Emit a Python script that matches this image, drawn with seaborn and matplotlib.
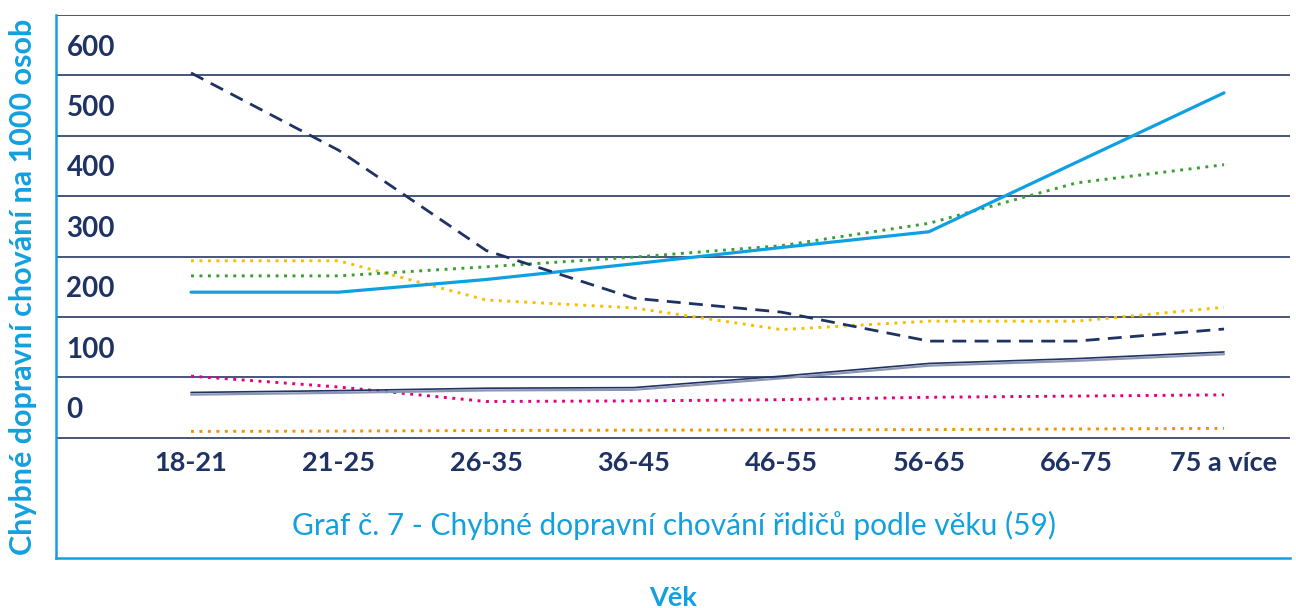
import numpy as np
import pandas as pd
import matplotlib
matplotlib.use("Agg")
import matplotlib.pyplot as plt
import matplotlib.patheffects as pe
import matplotlib.transforms as mtransforms
import seaborn as sns

# ---- data ----
categories = ["18-21", "21-25", "26-35", "36-45", "46-55", "56-65", "66-75", "75 a více"]
navy_dashed = [604, 476, 310, 231, 208, 160, 160, 180]
blue_solid = [241, 241, 262, 288, 315, 341, 456, 571]
green_dotted = [268, 268, 283, 299, 318, 355, 422, 452]
yellow_dotted = [293, 293, 228, 215, 179, 193, 193, 216]
navy_thin = [75, 78, 82, 83, 102, 123, 131, 142]
pink_dotted = [102, 84, 60, 61, 63, 67, 69, 71]
orange_dotted = [10.5, 11, 12, 12.5, 13, 13.5, 14.5, 15.5]
ytick_values = [0, 100, 200, 300, 400, 500, 600]
ytick_labels = ["0", "100", "200", "300", "400", "500", "600"]
title_text = "Graf č. 7 - Chybné dopravní chování řidičů podle věku (59)"
ylabel_text = "Chybné dopravní chování na 1000 osob"
xlabel_text = "Věk"

sns.set_theme(style="white")
plt.rcParams["font.family"] = ["Lato", "DejaVu Sans"]

NAVY = "#1f3264"
BLUE = "#12a0e0"

fig = plt.figure(figsize=(12.96, 6.08), dpi=100)
ax = fig.add_axes([56 / 1296, 1 - 558.3 / 608, 1234 / 1296, (558.3 - 14.7) / 608])

x = np.arange(len(categories))

def draw(vals, color, lw, ls, effects=None, z=3):
    sns.lineplot(x=x, y=vals, ax=ax, color=color, linewidth=lw, linestyle=ls,
                 zorder=z, path_effects=effects)

draw(orange_dotted, "#f39200", 2.1, (0, (1, 1.9)))
draw(pink_dotted, "#e5007d", 2.1, (0, (1, 1.9)))
draw(navy_thin, NAVY, 1.2, "-",
     [pe.SimpleLineShadow(offset=(0, -1.6), shadow_color="#8c96b1", alpha=1, linewidth=1.6), pe.Normal()])
draw(yellow_dotted, "#f7be00", 2.1, (0, (1, 1.9)))
draw(green_dotted, "#3a9f32", 2.1, (0, (1, 1.9)))
draw(blue_solid, "#0ea0e2", 2.3, "-", z=4)
draw(navy_dashed, NAVY, 2.0, (0, (5, 3)), z=5)

ax.set_xlim(-0.915, 7.447)
ax.set_ylim(-199.6, 700.4)

# gridlines at 0..700
ax.set_yticks(np.arange(0, 701, 100))
ax.set_yticklabels([])
ax.yaxis.grid(True, color="#3a4670", linewidth=1.3)
ax.xaxis.grid(False)
ax.set_axisbelow(True)

# y labels sit in the band above each value
ax.set_yticks([v + 50 for v in ytick_values], minor=True)
ax.set_yticklabels(ytick_labels, minor=True)
ax.tick_params(axis="y", which="both", length=0)
ax.tick_params(axis="y", which="minor", pad=-7.5, labelsize=20, labelcolor=NAVY)
for t in ax.get_yticklabels(minor=True):
    t.set_horizontalalignment("left")
    t.set_fontweight("bold")

ax.set_xticks(x)
ax.set_xticklabels(categories, fontweight="bold")
ax.tick_params(axis="x", length=0, pad=-77, labelsize=19.5, labelcolor=NAVY)

for s in ["top", "right"]:
    ax.spines[s].set_visible(False)
for s in ["left", "bottom"]:
    ax.spines[s].set_color(BLUE)
    ax.spines[s].set_linewidth(1.8)

trans = mtransforms.blended_transform_factory(ax.transAxes, ax.transData)
ax.text(0.5008, -146, title_text, transform=trans, ha="center", va="center",
        fontsize=21.5, color=BLUE, fontweight="normal")

ax.set_ylabel(ylabel_text, color=BLUE, fontsize=22, fontweight="bold", labelpad=10)
ax.set_xlabel(xlabel_text, color=BLUE, fontsize=19.5, fontweight="bold", labelpad=20)

fig.savefig("out.png", dpi=100)
